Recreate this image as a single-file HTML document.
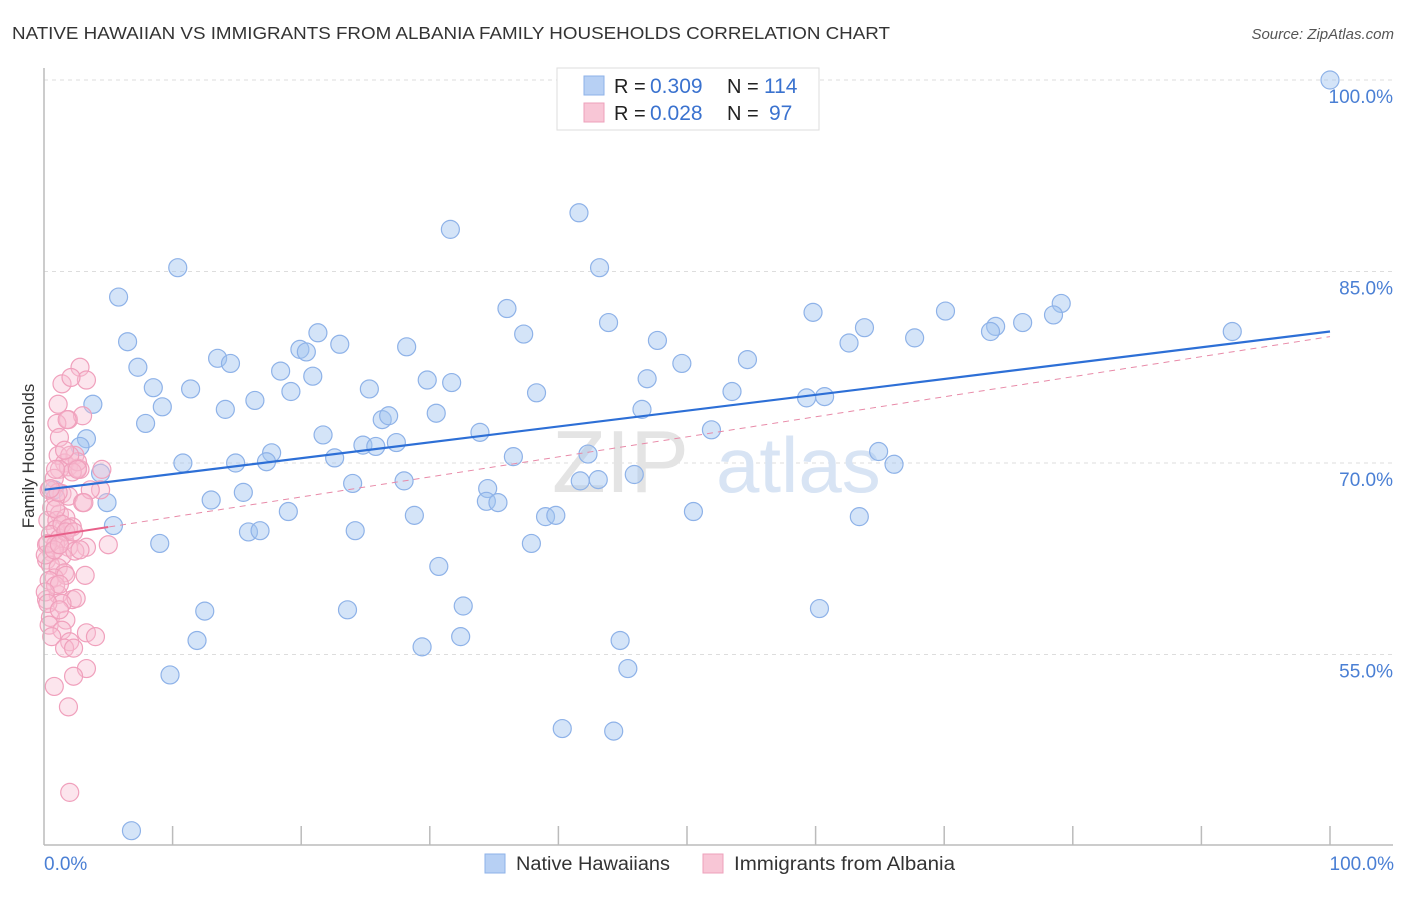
<!DOCTYPE html>
<html><head><meta charset="utf-8"><style>
body{margin:0;background:#fff;font-family:"Liberation Sans",sans-serif;}
svg text{font-family:"Liberation Sans",sans-serif;}
</style></head><body>
<svg id="chart" width="1406" height="892" xmlns="http://www.w3.org/2000/svg">
<text x="12" y="39" font-size="17.5" fill="#333" textLength="878" lengthAdjust="spacingAndGlyphs">NATIVE HAWAIIAN VS IMMIGRANTS FROM ALBANIA FAMILY HOUSEHOLDS CORRELATION CHART</text>
<text x="1394" y="39" font-size="15" fill="#555" font-style="italic" text-anchor="end">Source: ZipAtlas.com</text>
<text transform="translate(34,456) rotate(-90)" font-size="17" fill="#333" text-anchor="middle">Family Households</text>
<g id="grid"></g>
<text x="552" y="492" font-size="88" fill="#e4e4e4" font-family="Liberation Serif">ZIP</text>
<text x="716" y="492" font-size="78" fill="#d8e4f4">atlas</text>
<g id="pts"></g>
<g id="lines"></g>
<line x1="44" y1="68" x2="44" y2="845" stroke="#bbb" stroke-width="1.5"/>
<line x1="44" y1="845" x2="1393" y2="845" stroke="#bbb" stroke-width="1.5"/>
<g id="ticks"></g>
<text x="44" y="870" font-size="19" fill="#4a7fd4">0.0%</text>
<text x="1394" y="870" font-size="19" fill="#4a7fd4" text-anchor="end">100.0%</text>
<g>
<rect x="557" y="68" width="262" height="62" fill="#fff" stroke="#ddd"/>
<rect x="584" y="76" width="20" height="19" fill="#b7d0f4" stroke="#8eb2e8"/>
<rect x="584" y="103" width="20" height="19" fill="#f8c6d6" stroke="#eea0bb"/>
<text x="614" y="93" font-size="20" fill="#222">R =</text>
<text x="650" y="93" font-size="21" fill="#3a72cf">0.309</text>
<text x="727" y="93" font-size="20" fill="#222">N =</text>
<text x="764" y="93" font-size="21" fill="#3a72cf">114</text>
<text x="614" y="120" font-size="20" fill="#222">R =</text>
<text x="650" y="120" font-size="21" fill="#3a72cf">0.028</text>
<text x="727" y="120" font-size="20" fill="#222">N =</text>
<text x="769" y="120" font-size="21" fill="#3a72cf">97</text>
</g>
<g>
<rect x="485" y="854" width="20" height="19" fill="#b7d0f4" stroke="#8eb2e8"/>
<text x="516" y="870" font-size="19" fill="#333" textLength="154" lengthAdjust="spacingAndGlyphs">Native Hawaiians</text>
<rect x="703" y="854" width="20" height="19" fill="#f8c6d6" stroke="#eea0bb"/>
<text x="734" y="870" font-size="19" fill="#333" textLength="221" lengthAdjust="spacingAndGlyphs">Immigrants from Albania</text>
</g>
</svg>
<script>
const yTicks=[100,85,70,55];
const xTickVals=[10,20,30,40,50,60,70,80,90,100];
const blueX=[100,41.6,31.6,10.4,43.2,5.8,36.0,79.1,78.5,59.8,70.1,43.9,63.8,74.0,76.1,73.6,92.4,21.3,37.3,6.5,23.0,47.7,67.7,62.6,28.2,19.9,20.4,13.5,14.5,54.7,7.3,49.6,18.4,20.9,29.8,31.7,46.9,8.5,11.4,25.3,19.2,38.3,53.5,3.8,9.2,16.4,59.3,60.7,14.1,30.5,46.5,26.3,26.8,7.9,3.3,2.8,21.7,33.9,51.9,24.8,25.8,27.4,17.7,64.9,36.5,42.3,22.6,4.4,10.8,14.9,17.3,66.1,41.7,43.1,45.9,24.0,28.0,0.8,15.5,13.0,34.5,34.4,35.3,4.9,19.0,28.8,39.0,39.8,50.5,63.4,5.4,15.9,16.8,24.2,37.9,9.0,30.7,32.6,23.6,12.5,60.3,11.9,32.4,29.4,44.8,45.4,9.8,40.3,44.3,6.8];
const blueY=[100,89.6,88.3,85.3,85.3,83.0,82.1,82.5,81.6,81.8,81.9,81.0,80.6,80.7,81.0,80.3,80.3,80.2,80.1,79.5,79.3,79.6,79.8,79.4,79.1,78.9,78.7,78.2,77.8,78.1,77.5,77.8,77.2,76.8,76.5,76.3,76.6,75.9,75.8,75.8,75.6,75.5,75.6,74.6,74.4,74.9,75.1,75.2,74.2,73.9,74.2,73.4,73.7,73.1,71.9,71.3,72.2,72.4,72.6,71.4,71.3,71.6,70.8,70.9,70.5,70.7,70.4,69.2,70.0,70.0,70.1,69.9,68.6,68.7,69.1,68.4,68.6,67.9,67.7,67.1,68.0,67.0,66.9,66.9,66.2,65.9,65.8,65.9,66.2,65.8,65.1,64.6,64.7,64.7,63.7,63.7,61.9,58.8,58.5,58.4,58.6,56.1,56.4,55.6,56.1,53.9,53.4,49.2,49.0,41.2];
const pinkX=[2.8,3.3,1.4,2.1,1.1,1.9,3.0,1.0,1.2,1.8,2.4,1.1,1.6,1.9,2.6,2.8,1.2,0.8,0.4,1.4,1.9,0.9,4.4,3.0,0.6,1.2,0.3,1.0,1.7,2.2,0.9,0.5,1.2,1.6,0.2,0.9,1.9,3.3,5.0,0.6,1.4,0.2,2.4,0.5,1.1,1.6,3.2,0.8,1.7,0.2,1.1,2.2,2.5,1.4,0.5,1.7,0.4,1.4,3.3,4.0,2.0,0.6,1.6,2.3,3.3,2.3,0.8,1.9,2.0,0.4,0.9,1.2,0.1,0.3,1.2,2.6,2.2,2.0,1.6,0.9,1.4,1.9,0.1,0.3,0.8,1.7,0.9,1.1,2.6,3.6,0.5,2.3,3.1,4.5,1.2,2.8];
const pinkY=[77.5,76.5,76.2,76.7,74.6,73.4,73.7,73.1,72.0,73.4,70.6,70.6,70.0,69.7,69.6,69.5,69.5,68.8,67.9,67.6,67.4,67.3,67.9,66.9,66.5,66.0,65.5,65.5,65.7,65.0,64.8,64.4,64.1,63.9,63.6,63.6,63.4,63.4,63.6,63.0,62.7,62.4,63.1,62.0,61.8,61.4,61.2,61.0,61.2,59.3,59.7,59.3,59.4,59.0,57.9,57.7,57.3,56.9,56.7,56.4,56.0,56.4,55.5,55.5,53.9,53.3,52.5,50.9,44.2,60.8,60.4,60.5,59.9,59.0,58.5,70.1,69.3,70.6,71.0,66.4,65.2,64.9,62.8,63.7,63.2,64.6,69.5,67.7,69.5,67.9,68.0,64.6,66.9,69.5,63.6,63.2];
const blueTrend=[67.9,80.3];
const pinkTrend=[64.2,79.9];
const pinkSolidEnd=5;

const NS="http://www.w3.org/2000/svg";
function sx(v){return 44+v*12.86;}
function sy(v){return 80+(100-v)*12.767;}
function mk(tag,attrs,parent){const e=document.createElementNS(NS,tag);for(const k in attrs)e.setAttribute(k,attrs[k]);parent.appendChild(e);return e;}
const grid=document.getElementById('grid');
yTicks.forEach(t=>{
  const l=mk('line',{x1:44,x2:1393,y1:sy(t),y2:sy(t),stroke:'#ddd','stroke-dasharray':'4,4'},grid);
  
  
  const tx=mk('text',{x:1393,y:sy(t)+23,'font-size':19,fill:'#4a7fd4','text-anchor':'end'},grid);
  tx.textContent=t.toFixed(1)+'%';
  
  
});
const ticks=document.getElementById('ticks');
xTickVals.forEach(t=>{
  const l=mk('line',{x1:sx(t),x2:sx(t),y1:826,y2:845,stroke:'#bbb','stroke-width':1.5},ticks);
  
  
});
const pts=document.getElementById('pts');
blueX.forEach((x,i)=>{
  const c=mk('circle',{cx:sx(x),cy:sy(blueY[i]),r:9,fill:'rgba(160,195,240,0.45)',stroke:'#8eb2e8','stroke-width':1.2},pts);
  
  
});
pinkX.forEach((x,i)=>{
  const c=mk('circle',{cx:sx(x),cy:sy(pinkY[i]),r:9,fill:'rgba(248,190,210,0.4)',stroke:'#f0a0bc','stroke-width':1.2},pts);
  
  
});
const lines=document.getElementById('lines');
const bl=mk('line',{x1:sx(0),y1:sy(blueTrend[0]),x2:sx(100),y2:sy(blueTrend[1]),stroke:'#2d6fd6','stroke-width':2.2},lines);


const pl=mk('line',{x1:sx(0),y1:sy(pinkTrend[0]),x2:sx(100),y2:sy(pinkTrend[1]),stroke:'#e88aa8','stroke-width':1,'stroke-dasharray':'6,5'},lines);


const pe=pinkTrend[0]+(pinkTrend[1]-pinkTrend[0])*pinkSolidEnd/100;
const ps=mk('line',{x1:sx(0),y1:sy(pinkTrend[0]),x2:sx(pinkSolidEnd),y2:sy(pe),stroke:'#e8608a','stroke-width':2},lines);


</script>
</body></html>
